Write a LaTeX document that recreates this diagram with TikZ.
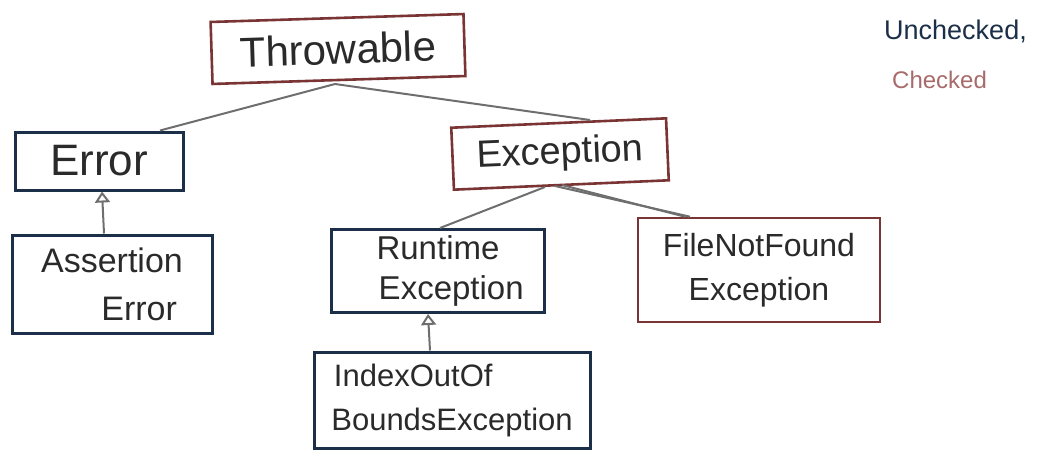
\documentclass[tikz,border=0pt]{standalone}
\usepackage{fontspec}
\setmainfont{Liberation Sans}
\usetikzlibrary{arrows.meta}
\definecolor{navy}{HTML}{1C2F48}
\definecolor{brick}{HTML}{7A3434}
\definecolor{rose}{HTML}{A86A6A}
\definecolor{ink}{HTML}{2A2A2A}
\definecolor{pencil}{HTML}{6E6E6E}
\tikzset{
  box/.style={draw, line width=3pt, text=ink, align=center, inner sep=4pt},
  unchecked/.style={box, draw=navy},
  checked/.style={box, draw=brick, line width=2.6pt},
  link/.style={draw=pencil, line width=2pt},
  inherit/.style={link, -{Triangle[open, length=11pt, width=15pt, line width=2pt]}},
}
\begin{document}
\begin{tikzpicture}[x=1pt, y=-1pt]
\useasboundingbox (0,0) rectangle (1039,464);
% nodes
\node[checked, minimum width=253pt, minimum height=62pt, rotate=1.8, font=\fontsize{42}{46}\selectfont] (throw) at (338,49) {Throwable};
\node[unchecked, minimum width=168pt, minimum height=58pt, font=\fontsize{44}{46}\selectfont] (error) at (99,161) {Error};
\node[unchecked, minimum width=200pt, minimum height=98pt, font=\fontsize{34}{48}\selectfont] (assert) at (112,284) {Assertion\\\hspace*{1.6em}Error};
\node[checked, minimum width=215pt, minimum height=62pt, rotate=2.5, font=\fontsize{38}{42}\selectfont] (exc) at (560,154) {Exception};
\node[unchecked, minimum width=213pt, minimum height=83pt, font=\fontsize{33}{40}\selectfont] (runtime) at (438,271) {Runtime\\\hspace*{0.8em}Exception};
\node[checked, minimum width=242pt, minimum height=104pt, font=\fontsize{32}{44}\selectfont] (fnf) at (759,270) {FileNotFound\\Exception};
\node[unchecked, minimum width=276pt, minimum height=96pt, font=\fontsize{31}{44}\selectfont] (index) at (452,400) {IndexOutOf\hspace*{2.5em}\\BoundsException};
% legend
\node[text=navy, font=\fontsize{27}{30}\selectfont, anchor=west, inner sep=0pt] (leg1) at (884,31) {Unchecked,};
\node[text=rose, font=\fontsize{24}{28}\selectfont, anchor=west, inner sep=0pt] (leg2) at (892,80) {Checked};
% connectors
\coordinate (tb) at (335,84);
\draw[link] (tb) -- (error.north -| 160,0);
\draw[link] (tb) -- (590,120);
\draw[link] (545,187) -- (runtime.north -| 440,0);
\draw[link] (555,186) -- (fnf.north -| 690,0);
\draw[link] (562,185) -- ([xshift=-5pt]fnf.north -| 690,0);
\draw[inherit] (assert.north -| 104,0) -- (error.south -| 102,0);
\draw[inherit] (index.north -| 430,0) -- (runtime.south -| 428,0);
\end{tikzpicture}
\end{document}
